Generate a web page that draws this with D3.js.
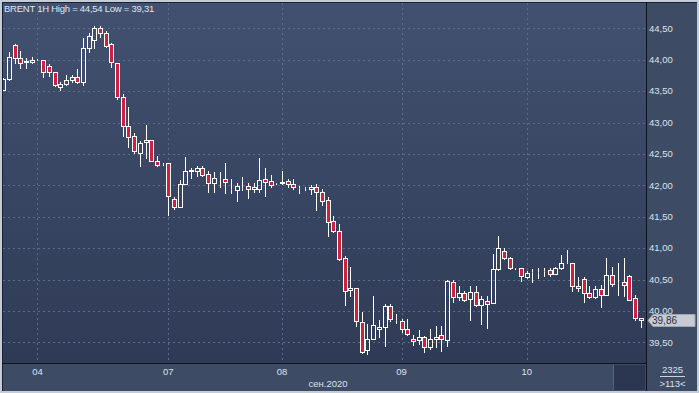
<!DOCTYPE html>
<html><head><meta charset="utf-8">
<script src="https://cdn.jsdelivr.net/npm/d3@7"></script>
<style>html,body{margin:0;padding:0;background:#c4ccd8;overflow:hidden}</style>
</head><body><svg id="c" width="699" height="393"></svg>
<script>
const symbol = "BRENT 1H";
const opens = [43.52,43.70,44.23,44.02,43.96,43.97,44.00,43.99,43.90,43.80, 43.57,43.61,43.67,43.72,43.64,44.18,44.32,44.50,44.42,44.25, 43.94,43.40,42.95,42.79,42.51,42.69,42.72,42.38,42.34,42.35, 41.78,41.66,42.02,42.23,42.22,42.27,42.18,42.04,42.10,42.10, 41.94,41.93,41.96,41.99,41.94,41.94,42.10,42.07,42.03,42.04, 42.07,42.02,41.96,41.95,41.94,41.97,41.89,41.77,41.43,41.27, 40.85,40.33,40.37,39.83,39.37,39.56,39.71,39.74,40.08,39.86, 39.84,39.71,39.56,39.54,39.58,39.42,39.55,39.61,39.54,40.46, 40.22,40.28,40.19,40.30,40.09,40.16,40.12,40.66,40.96,40.84, 40.68,40.68,40.54,40.62,40.62,40.64,40.65,40.59,40.68,40.78, 40.77,40.40,40.51,40.28,40.22,40.35,40.26,40.57,40.44,40.46, 40.56,40.20,39.88];
const highs = [43.71,44.13,44.25,44.14,44.02,44.04,44.01,44.00,43.93,43.81, 43.65,43.75,43.76,43.85,44.34,44.42,44.54,44.54,44.45,44.26, 43.95,43.45,43.25,42.83,42.71,42.96,42.72,42.47,42.35,42.35, 41.82,42.09,42.45,42.27,42.31,42.31,42.22,42.21,42.21,42.35, 42.10,42.03,42.14,42.03,42.03,42.43,42.27,42.17,42.04,42.23, 42.10,42.10,41.99,41.97,42.00,42.02,41.94,41.81,41.51,41.39, 40.87,40.70,40.37,39.98,39.79,40.23,39.86,40.11,40.11,39.95, 39.87,39.87,39.61,39.70,39.60,39.71,39.76,39.76,40.49,40.49, 40.39,40.32,40.39,40.39,40.23,40.23,40.90,41.19,41.00,40.86, 40.69,40.69,40.64,40.66,40.69,40.68,40.68,40.70,40.89,40.97, 40.77,40.54,40.54,40.40,40.40,40.41,40.84,40.70,40.76,40.84, 40.57,40.25,39.89];
const lows = [43.51,43.68,43.94,43.87,43.87,43.95,43.99,43.72,43.74,43.58, 43.52,43.59,43.65,43.63,43.60,44.13,44.18,44.36,44.21,43.89, 43.37,42.79,42.61,42.51,42.30,42.43,42.38,42.30,42.33,41.53, 41.63,41.66,42.02,42.11,42.15,42.15,41.90,41.89,41.98,41.87, 41.88,41.75,41.93,41.80,41.89,41.90,41.83,41.98,42.02,42.02, 41.98,41.94,41.87,41.93,41.86,41.61,41.69,41.20,41.25,40.81, 40.09,40.23,39.76,39.33,39.31,39.56,39.59,39.44,39.84,39.80, 39.67,39.62,39.46,39.48,39.35,39.40,39.42,39.36,39.44,40.14, 40.17,40.15,39.86,40.08,39.79,39.72,40.12,40.65,40.83,40.67, 40.67,40.47,40.52,40.46,40.52,40.56,40.56,40.58,40.67,40.76, 40.31,40.31,40.14,40.20,40.20,40.07,40.25,40.39,40.25,40.24, 40.17,39.86,39.75];
const closes = [43.70,44.05,44.02,43.94,43.98,44.00,44.00,43.80,43.80,43.59, 43.61,43.68,43.72,43.64,44.18,44.38,44.50,44.42,44.22,43.96, 43.40,42.95,42.77,42.54,42.68,42.72,42.39,42.33,42.34,41.83, 41.66,42.02,42.23,42.24,42.27,42.17,42.04,42.11,42.10,42.05, 41.94,41.99,41.96,41.94,41.98,42.08,42.06,42.00,42.03,42.05, 42.02,41.97,41.96,41.95,41.97,41.89,41.75,41.41,41.27,40.83, 40.32,40.37,39.84,39.35,39.56,39.78,39.74,40.08,39.87,39.86, 39.71,39.64,39.52,39.58,39.42,39.56,39.59,39.55,40.47,40.22, 40.28,40.17,40.30,40.09,40.19,40.11,40.66,41.00,40.84,40.68, 40.68,40.56,40.61,40.62,40.62,40.64,40.59,40.69,40.77,40.78, 40.39,40.36,40.28,40.22,40.35,40.26,40.57,40.43,40.44,40.42, 40.18,39.88,39.86];
const dayTickIndex = [6, 29, 49, 70, 92];
const dayTickLabels = ["04", "07", "08", "09", "10"];
const yTickValues = [39.5, 40, 40.5, 41, 41.5, 42, 42.5, 43, 43.5, 44, 44.5];
const monthLabel = "сен.2020";
const totalBars = "2325";

const W = 699, H = 393;
const L = 3, R = 646, T = 3, B = 363;
const svg = d3.select("#c");
const font = "'Liberation Sans', Arial, sans-serif";
const fmt = v => d3.format(".2f")(v).replace(".", ",");

const x = d3.scaleLinear().domain([0, opens.length - 1]).range([3.3, 640.6]);
const y = d3.scaleLinear().domain([39.5, 44.5]).range([342.3, 28.3]);

const defs = svg.append("defs");
const g1 = defs.append("linearGradient").attr("id", "bg").attr("x1", 0).attr("y1", 0).attr("x2", 0).attr("y2", 1);
g1.append("stop").attr("offset", "0%").attr("stop-color", "#425170");
g1.append("stop").attr("offset", "100%").attr("stop-color", "#2f3b56");
defs.append("clipPath").attr("id", "clip").append("rect").attr("x", L).attr("y", T).attr("width", R - L).attr("height", B - T);

// frame
svg.append("rect").attr("width", W).attr("height", H).attr("fill", "#c4ccd8");
svg.append("rect").attr("x", 2).attr("y", 2).attr("width", 695).attr("height", 389).attr("fill", "#3e4b65");
svg.append("rect").attr("x", L).attr("y", T).attr("width", R - L).attr("height", B - T).attr("fill", "url(#bg)");

// grid
const grid = svg.append("g").attr("stroke", "#5c6b89").attr("stroke-width", 1).attr("stroke-dasharray", "2,3");
grid.selectAll("line.h").data(yTickValues).join("line").attr("class", "h")
  .attr("x1", L).attr("x2", R).attr("y1", d => Math.round(y(d)) + 0.5).attr("y2", d => Math.round(y(d)) + 0.5);
grid.selectAll("line.v").data(dayTickIndex).join("line").attr("class", "v")
  .attr("y1", T).attr("y2", B).attr("x1", d => Math.round(x(d)) + 0.5).attr("x2", d => Math.round(x(d)) + 0.5);

// candles
const data = opens.map((o, i) => ({ i, o, h: highs[i], l: lows[i], c: closes[i] }));
const cg = svg.append("g").attr("clip-path", "url(#clip)");
const px = d => Math.round(x(d.i));
const bTop = d => Math.round(y(Math.max(d.o, d.c))) + 0.5;
const bBot = d => Math.round(y(Math.min(d.o, d.c))) + 0.5;
cg.selectAll("line.wu").data(data).join("line").attr("class", "wu")
  .attr("x1", d => px(d) + 0.5).attr("x2", d => px(d) + 0.5)
  .attr("y1", d => Math.round(y(d.h))).attr("y2", bTop)
  .attr("stroke", "#ffffff");
cg.selectAll("line.wd").data(data).join("line").attr("class", "wd")
  .attr("x1", d => px(d) + 0.5).attr("x2", d => px(d) + 0.5)
  .attr("y1", bBot).attr("y2", d => Math.round(y(d.l)) + 1)
  .attr("stroke", "#ffffff");
cg.selectAll("rect.body").data(data).join("rect").attr("class", "body")
  .attr("x", d => px(d) - 1.5).attr("width", 4)
  .attr("y", bTop).attr("height", d => bBot(d) - bTop(d))
  .attr("fill", d => d.c >= d.o ? "none" : "#d21f3c")
  .attr("stroke", "#ffffff").attr("stroke-width", 1);

// borders
svg.append("line").attr("x1", 2.5).attr("x2", 2.5).attr("y1", 2).attr("y2", 391).attr("stroke", "#1a2131");
svg.append("line").attr("x1", 2).attr("x2", 697).attr("y1", 2.5).attr("y2", 2.5).attr("stroke", "#1a2131");
svg.append("line").attr("x1", 2).attr("x2", R).attr("y1", B + 0.5).attr("y2", B + 0.5).attr("stroke", "#0d121e");
svg.append("line").attr("x1", R + 0.5).attr("x2", R + 0.5).attr("y1", 2).attr("y2", 391).attr("stroke", "#0d121e");

// scroll box
svg.append("rect").attr("x", 613).attr("y", 365).attr("width", 32).attr("height", 25).attr("fill", "#2b3651");
svg.append("line").attr("x1", 613.5).attr("x2", 613.5).attr("y1", 365).attr("y2", 390).attr("stroke", "#56637d");

// y axis labels
svg.append("g").selectAll("text").data(yTickValues).join("text")
  .attr("x", 649).attr("y", d => y(d)).attr("dy", "0.35em")
  .attr("font-family", font).attr("font-size", 9.5).attr("fill", "#dbe2ee")
  .text(fmt);

// x axis labels
svg.append("g").selectAll("text").data(dayTickIndex).join("text")
  .attr("x", d => x(d)).attr("y", 375).attr("text-anchor", "middle")
  .attr("font-family", font).attr("font-size", 9.5).attr("fill", "#dbe2ee")
  .text((d, k) => dayTickLabels[k]);
svg.append("text").attr("x", 328).attr("y", 386.5).attr("text-anchor", "middle")
  .attr("font-family", font).attr("font-size", 9.5).attr("fill", "#dbe2ee").text(monthLabel);

// bottom right info
svg.append("text").attr("x", 672.5).attr("y", 372.7).attr("text-anchor", "middle")
  .attr("font-family", font).attr("font-size", 9.5).attr("fill", "#dbe2ee").text(totalBars);
svg.append("line").attr("x1", 660).attr("x2", 685).attr("y1", 376.5).attr("y2", 376.5).attr("stroke", "#c9d1dd");
svg.append("text").attr("x", 672.5).attr("y", 386.5).attr("text-anchor", "middle")
  .attr("font-family", font).attr("font-size", 9.5).attr("fill", "#dbe2ee").text(">" + opens.length + "<");

// last price tag
const last = closes[closes.length - 1];
const ly = Math.round(y(last));
svg.append("path")
  .attr("d", `M648,${ly + 0.5} L653,${ly - 5.5} L695,${ly - 5.5} L695,${ly + 6.5} L653,${ly + 6.5} Z`)
  .attr("fill", "#c7cbd3").attr("stroke", "#9ea6b4").attr("stroke-width", 1);
svg.append("text").attr("x", 652).attr("y", ly + 3.7)
  .attr("font-family", font).attr("font-size", 10).attr("fill", "#2b303b").text(fmt(last));

// header
const hi = d3.max(highs), lo = d3.min(lows);
svg.append("text").attr("x", 4).attr("y", 12).attr("letter-spacing", -0.25)
  .attr("font-family", font).attr("font-size", 9.5).attr("fill", "#dfe6f0")
  .text(`${symbol} High = ${fmt(hi)} Low = ${fmt(lo)}`);
</script></body></html>
